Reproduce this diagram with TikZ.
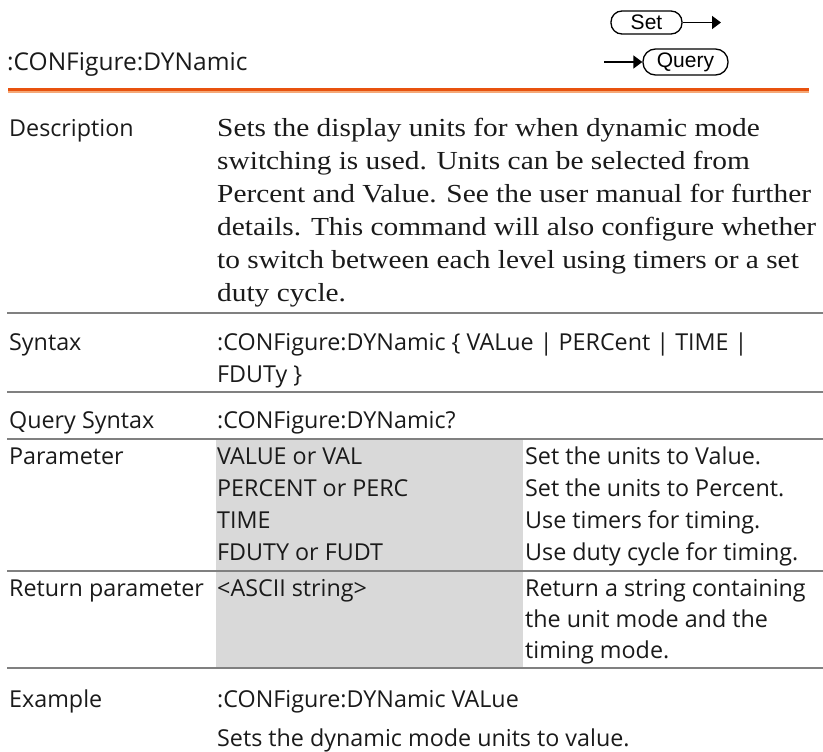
\documentclass[tikz,border=0pt]{standalone}
\usepackage{fontspec}
\setmainfont{Open Sans}
\newfontfamily\serifdesc{Liberation Serif}[FakeStretch=1.13]
\newfontfamily\iconfont{Liberation Sans}
\usetikzlibrary{arrows.meta}
\definecolor{rulegray}{HTML}{808080}
\definecolor{orangeA}{HTML}{E8520E}
\definecolor{orangeB}{HTML}{F5A877}
\definecolor{cellgray}{HTML}{D9D9D9}
\definecolor{ink}{HTML}{1A1A1A}
\begin{document}
\begin{tikzpicture}[x=1pt,y=-1pt,
  lbl/.style={anchor=base west, inner sep=0pt, text=ink, font=\fontsize{23.3}{28}\selectfont},
  ttl/.style={anchor=base west, inner sep=0pt, text=ink, font=\fontsize{24.5}{28}\selectfont},
  dsc/.style={anchor=base west, inner sep=0pt, text=ink, font=\serifdesc\fontsize{26}{33}\selectfont},
  sepline/.style={draw=rulegray, line width=2pt},
  iconbox/.style={draw=black, line width=1.3pt, inner sep=0pt, text=black, font=\iconfont\fontsize{21}{21}\selectfont},
  iconarrow/.style={draw=black, line width=1.5pt, -{Triangle[length=9pt,width=13pt]}}
]
\useasboundingbox (0,0) rectangle (823,752);
% title
\node[ttl] (title) at (7,71) {:CONFigure:DYNamic};
% Set / Query icons
\node[iconbox, minimum width=71pt, minimum height=23pt, rounded corners=11pt] (setbox) at (646.5,22.5) {Set};
\coordinate (setend) at (721,22.5);
\draw[iconarrow] (setbox.east) -- (setend);
\node[iconbox, minimum width=85pt, minimum height=26pt, rounded corners=12.5pt] (querybox) at (685.5,62) {Query};
\coordinate (querystart) at (604,62);
\draw[iconarrow] (querystart) -- (querybox.west);
% orange rule
\fill[orangeA] (8,88) rectangle (809,91.5);
\fill[orangeB] (8,91.5) rectangle (809,93.5);
% gray cells
\fill[cellgray] (216,440) rectangle (523,667);
% separator lines
\draw[sepline] (7,313) -- (823,313);
\draw[sepline] (7,392) -- (823,392);
\draw[sepline] (7,439) -- (823,439);
\draw[sepline] (7,571) -- (823,571);
\draw[sepline] (7,668) -- (823,668);
% Description
\node[lbl] (ldesc) at (9,136) {Description};
\node[dsc] (d1) at (217,136) {Sets the display units for when dynamic mode};
\node[dsc] (d2) at (217,169) {switching is used. Units can be selected from};
\node[dsc] (d3) at (217,202) {Percent and Value. See the user manual for further};
\node[dsc] (d4) at (217,235) {details. This command will also configure whether};
\node[dsc] (d5) at (217,268) {to switch between each level using timers or a set};
\node[dsc] (d6) at (217,301) {duty cycle.};
% Syntax
\node[lbl] (lsyn) at (9,350) {Syntax};
\node[lbl] (s1) at (217,350) {:CONFigure:DYNamic \{ VALue | PERCent | TIME |};
\node[lbl] (s2) at (217,382) {FDUTy \}};
% Query Syntax
\node[lbl] (lqs) at (9,428) {Query Syntax};
\node[lbl] (q1) at (217,428) {:CONFigure:DYNamic?};
% Parameter
\node[lbl] (lpar) at (9,464) {Parameter};
\node[lbl] (p1) at (217,464) {VALUE or VAL};
\node[lbl] (p2) at (217,496) {PERCENT or PERC};
\node[lbl] (p3) at (217,528) {TIME};
\node[lbl] (p4) at (217,560) {FDUTY or FUDT};
\node[lbl] (e1) at (525,464) {Set the units to Value.};
\node[lbl] (e2) at (525,496) {Set the units to Percent.};
\node[lbl] (e3) at (525,528) {Use timers for timing.};
\node[lbl] (e4) at (525,560) {Use duty cycle for timing.};
% Return parameter
\node[lbl] (lret) at (9,596) {Return parameter};
\node[lbl] (r1) at (217,596) {<ASCII string>};
\node[lbl] (rd1) at (525,596) {Return a string containing};
\node[lbl] (rd2) at (525,627) {the unit mode and the};
\node[lbl] (rd3) at (525,658) {timing mode.};
% Example
\node[lbl] (lex) at (9,707) {Example};
\node[lbl] (x1) at (217,707) {:CONFigure:DYNamic VALue};
\node[lbl] (x2) at (217,746) {Sets the dynamic mode units to value.};
\end{tikzpicture}
\end{document}
